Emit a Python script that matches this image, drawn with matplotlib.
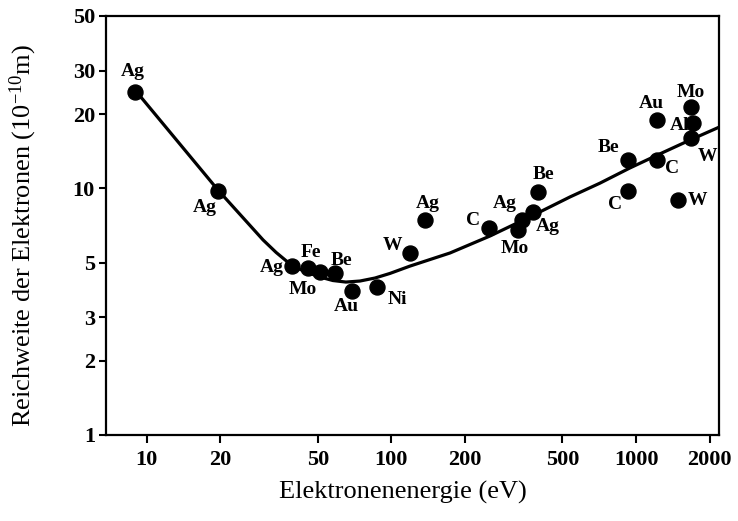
import matplotlib
matplotlib.use("Agg")
import matplotlib.pyplot as plt
from matplotlib.ticker import FixedLocator, FixedFormatter, NullLocator

plt.rcParams["font.family"] = ["Liberation Serif", "DejaVu Serif"]
plt.rcParams["mathtext.fontset"] = "custom"
plt.rcParams["mathtext.rm"] = "Liberation Serif"
plt.rcParams["mathtext.it"] = "Liberation Serif:italic"
plt.rcParams["mathtext.bf"] = "Liberation Serif:bold"

# measured inelastic mean free path per element
elements = ["Ag", "Ag", "Ag", "Fe", "Mo", "Be", "Au", "Ni", "W", "Ag",
            "C", "Mo", "Ag", "Ag", "Be", "Be", "C", "C", "W", "Au",
            "Mo", "Al", "W"]
energy = [9.0, 19.6, 39.1, 45.8, 51.1, 58.8, 68.8, 87.1, 119, 137,
          251, 330, 341, 380, 398, 929, 1214, 929, 1488, 1214,
          1670, 1713, 1671]
reach = [24.7, 9.8, 4.84, 4.77, 4.59, 4.53, 3.85, 3.99, 5.46, 7.44,
         6.89, 6.78, 7.44, 8.05, 9.7, 13.0, 13.0, 9.79, 8.97, 18.9,
         21.4, 18.4, 16.0]
# label offsets in pixels (dx, dy)
label_dx = [-3, -13, -20, 3, -17, 7, -5, 21, -17, 3,
            -16, -3, -17, 15, 5, -20, 15, -13, 19, -5,
            0, -14, 17]
label_dy = [20, -17, -1, 15, -18, 13, -16, -13, 8, 17,
            8, -18, 17, -15, 17, 13, -8, -14, 0, 17,
            14, -2, -18]

# universal curve
curve_e = [9.04, 19.56, 29.9, 33.8, 38.5, 41.1, 44.4, 51.1, 57.7, 65.2,
           74.4, 85.7, 98.7, 119.1, 173.6, 253, 368, 537, 712, 944,
           1252, 1661, 2182]
curve_r = [24.8, 9.85, 6.18, 5.50, 4.94, 4.76, 4.60, 4.37, 4.23, 4.17,
           4.21, 4.33, 4.52, 4.84, 5.47, 6.41, 7.66, 9.23, 10.5, 12.1,
           13.8, 15.7, 17.7]

x_ticks = [10, 20, 50, 100, 200, 500, 1000, 2000]
y_ticks = [1, 2, 3, 5, 10, 20, 30, 50]

fig = plt.figure(figsize=(7.38, 5.21), dpi=100)
ax = fig.add_axes([106 / 738, 1 - 435 / 521, 613 / 738, 419 / 521])
ax.set_xscale("log")
ax.set_yscale("log")
ax.set_xlim(6.82, 2183)
ax.set_ylim(1, 50)

ax.plot(curve_e, curve_r, color="black", lw=2.3, zorder=2.5,
        solid_capstyle="round", solid_joinstyle="round")
ax.plot(energy, reach, "o", color="black", ms=10.8, mec="black", zorder=3)

for name, e, r, dx, dy in zip(elements, energy, reach, label_dx, label_dy):
    ax.annotate(name, (e, r), xytext=(dx, dy), textcoords="offset pixels",
                ha="center", va="center", fontsize=14, fontweight="bold",
                zorder=2)

ax.xaxis.set_major_locator(FixedLocator(x_ticks))
ax.xaxis.set_major_formatter(FixedFormatter([str(v) for v in x_ticks]))
ax.yaxis.set_major_locator(FixedLocator(y_ticks))
ax.yaxis.set_major_formatter(FixedFormatter([str(v) for v in y_ticks]))
ax.xaxis.set_minor_locator(NullLocator())
ax.yaxis.set_minor_locator(NullLocator())

ax.tick_params(axis="both", direction="out", width=1.5, labelsize=16)
ax.tick_params(axis="x", length=6, pad=5)
ax.tick_params(axis="y", length=5, pad=3)
for lbl in ax.get_xticklabels() + ax.get_yticklabels():
    lbl.set_fontweight("bold")
for sp in ax.spines.values():
    sp.set_linewidth(1.6)

fig.text(403 / 738, 1 - 492 / 521, "Elektronenenergie (eV)",
         ha="center", va="center", fontsize=19)
fig.text(23 / 738, 1 - 236 / 521,
         r"Reichweite der Elektronen (10$^{-10}$m)",
         ha="center", va="center", rotation=90, fontsize=19)

fig.savefig("out.png", dpi=100)
